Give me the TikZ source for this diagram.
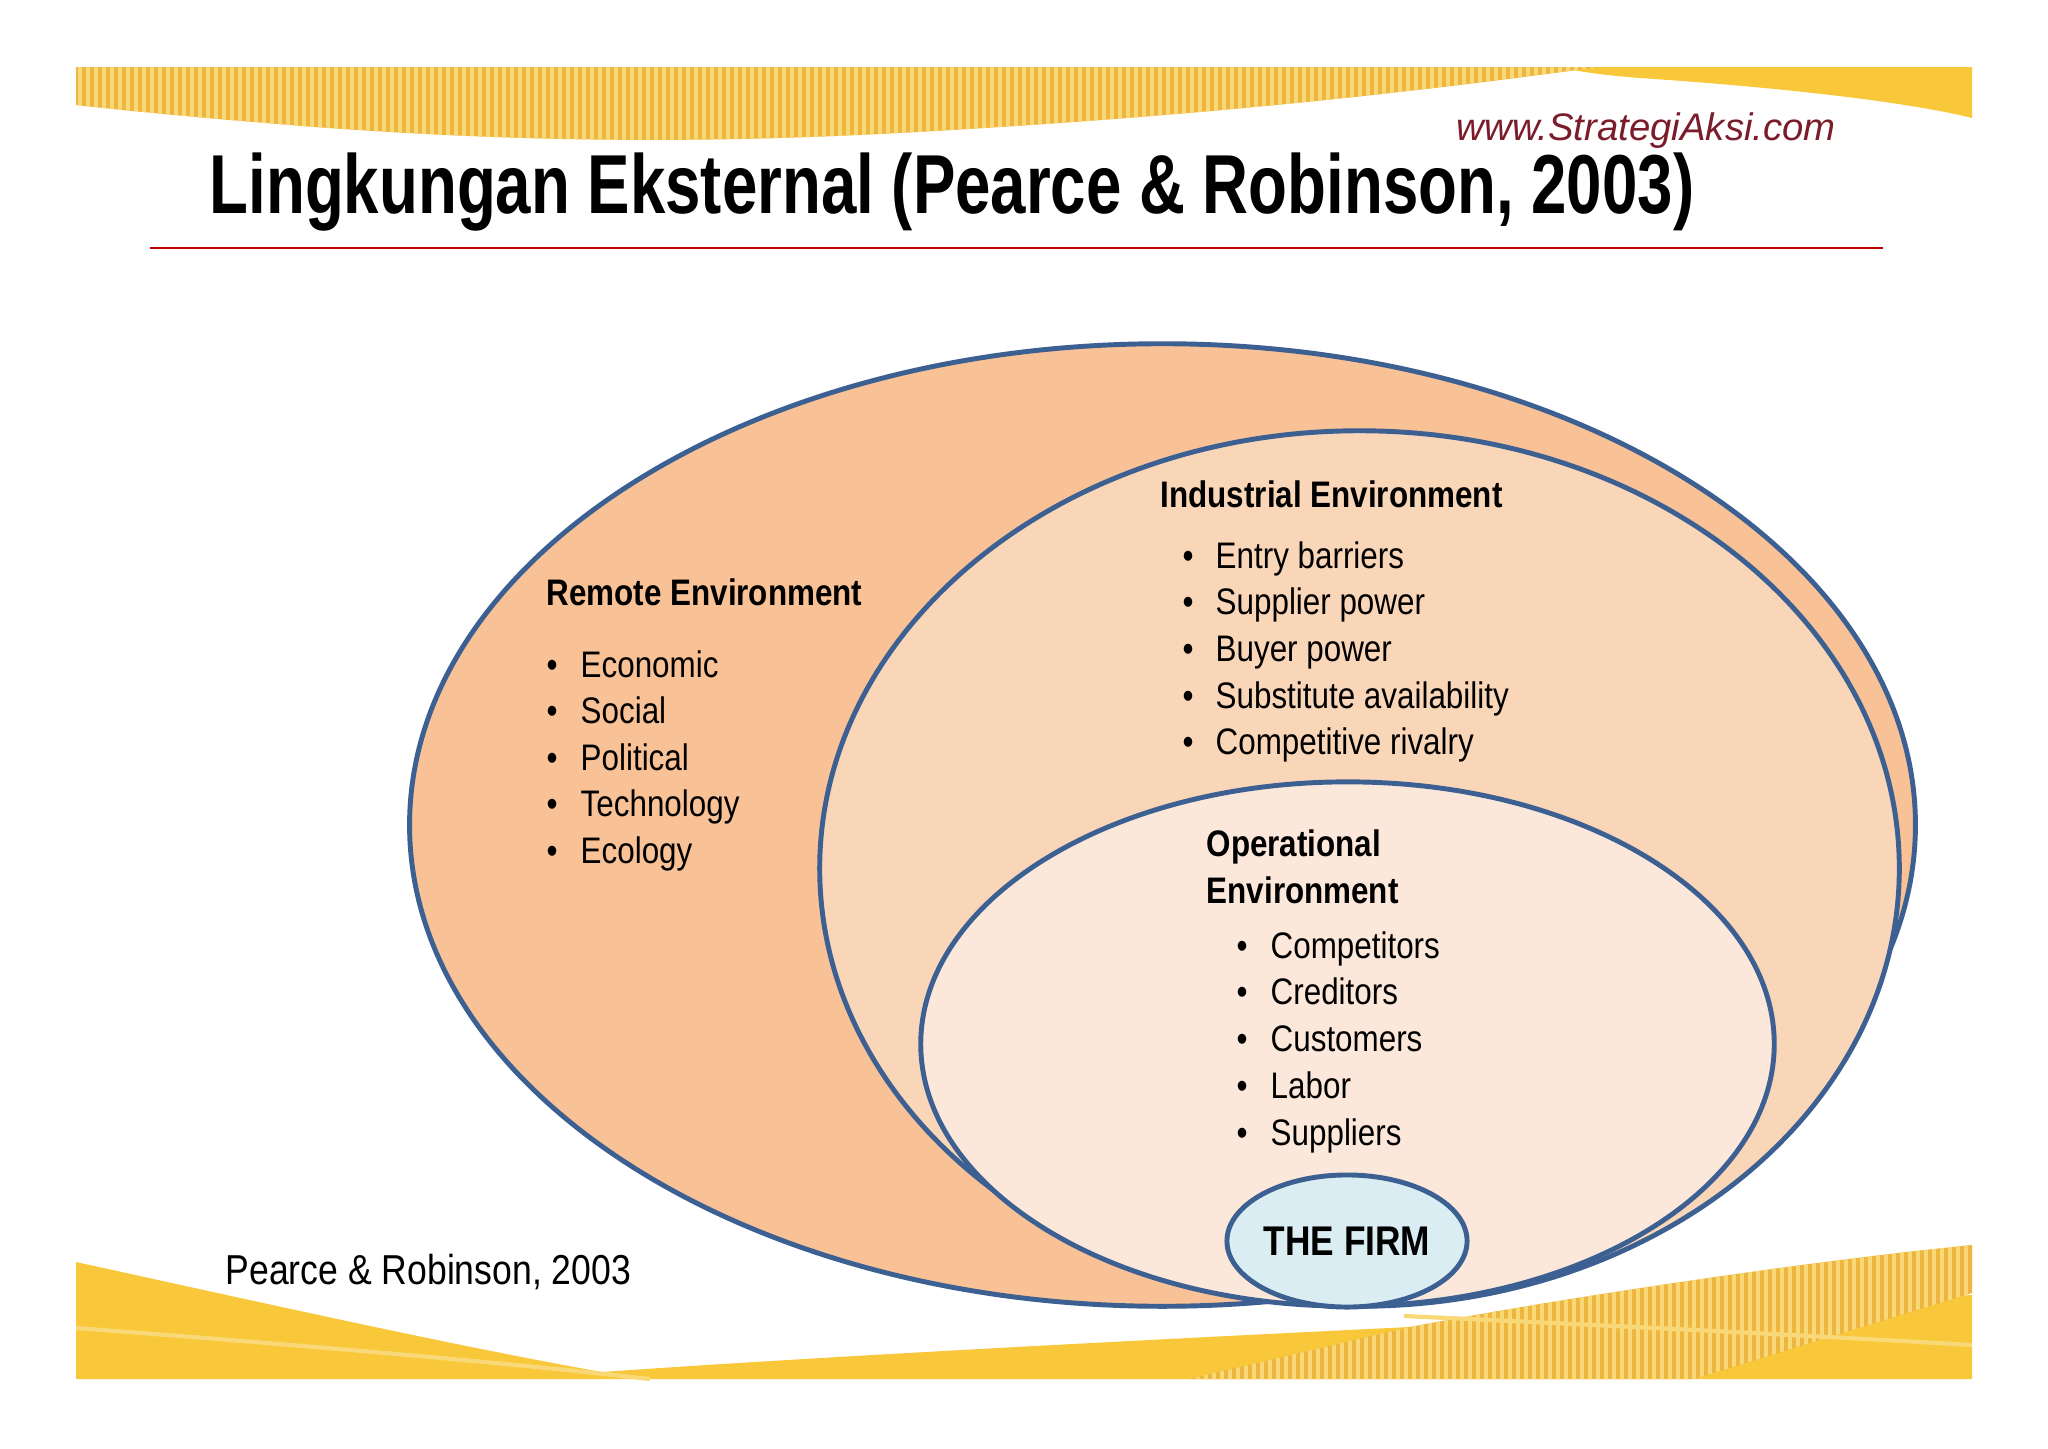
\documentclass[tikz,border=0pt]{standalone}
\usepackage{fontspec}
\setmainfont{Liberation Sans}
\newfontfamily\narrowfont[FakeStretch=0.85]{Liberation Sans}
\newfontfamily\titlefont[FakeStretch=0.76]{Liberation Sans}
\usetikzlibrary{shapes.geometric}

\definecolor{ringblue}{HTML}{3C6092}
\definecolor{remotefill}{HTML}{F9C196}
\definecolor{indusfill}{HTML}{FAD6B8}
\definecolor{operfill}{HTML}{FCE8DA}
\definecolor{firmfill}{HTML}{DAEDF3}
\definecolor{bandgold}{HTML}{EEB63E}
\definecolor{bandpale}{HTML}{F8D877}
\definecolor{bandsolid}{HTML}{F8C73A}
\definecolor{rulered}{HTML}{C00000}
\definecolor{markred}{HTML}{7B1C2A}

\tikzset{
  env/.style={draw=ringblue, line width=1.4pt},
  head/.style={font=\narrowfont\bfseries\fontsize{10.5}{13.2}\selectfont, anchor=base west, inner sep=0pt, align=left},
  item/.style={font=\narrowfont\fontsize{10.5}{13}\selectfont, anchor=base west, inner sep=0pt},
  dot/.style={font=\narrowfont\fontsize{10.5}{13}\selectfont, anchor=base, inner sep=0pt}
}

\begin{document}
\begin{tikzpicture}[x=0.01cm,y=-0.01cm]
	\useasboundingbox (0,0) rectangle (2048,1448);
	\fill[white] (0,0) rectangle (2048,1448);

	%top band
	\fill[bandsolid] (1560,67) -- (1972,67) -- (1972,118)
		.. controls (1900,100) and (1760,86) .. (1640,78)
		.. controls (1600,75) and (1575,71) .. (1560,67) -- cycle;
	\begin{scope}
		\clip (76,67) -- (1600,67)
			.. controls (1500,80) and (1300,108) .. (1000,127)
			.. controls (800,140) and (600,148) .. (315,127)
			.. controls (200,118) and (120,110) .. (76,105) -- cycle;
		\fill[bandgold] (76,60) rectangle (1600,150);
		\foreach \x in {80,88,...,1600}
			\draw[bandpale, line width=0.9pt] (\x,60) -- (\x,150);
	\end{scope}

	%bottom band
	\fill[bandsolid] (76,1262) .. controls (250,1300) and (450,1345) .. (602,1372)
		.. controls (800,1358) and (1100,1342) .. (1410,1327)
		-- (1972,1295) -- (1972,1379) -- (76,1379) -- cycle;
	\begin{scope}
		\clip (1189,1379) -- (1410,1327)
			.. controls (1550,1300) and (1800,1262) .. (1972,1245)
			-- (1972,1293) -- (1694,1379) -- cycle;
		\fill[bandgold] (1180,1240) rectangle (1980,1380);
		\foreach \x in {1190,1198,...,1972}
			\draw[bandpale, line width=0.9pt] (\x,1240) -- (\x,1380);
	\end{scope}
	\draw[bandpale, line width=1.2pt] (76,1328) .. controls (300,1345) and (500,1362) .. (650,1379);
	\draw[bandpale, line width=1.2pt] (1404,1316) .. controls (1600,1325) and (1800,1335) .. (1972,1345);

	%title
	\node[font=\titlefont\bfseries\fontsize{23.8}{28}\selectfont, anchor=base west, inner sep=0pt] (title) at (209,213) {Lingkungan Eksternal (Pearce \& Robinson, 2003)};
	\node[font=\itshape\fontsize{10.9}{13}\selectfont, text=markred, anchor=west, inner sep=0pt] (wmark) at (1456,131) {www.StrategiAksi.com};
	\draw[rulered, line width=0.6pt] (150,248) -- (1883,248);

	%nested environments
	\filldraw[env, fill=remotefill] (1162.5,825) ellipse [x radius=7.525cm, y radius=4.81cm];
	\filldraw[env, fill=indusfill] (1359.5,868.5) ellipse [x radius=5.395cm, y radius=4.375cm];
	\filldraw[env, fill=operfill] (1347.5,1044) ellipse [x radius=4.265cm, y radius=2.62cm];
	\node[ellipse, env, fill=firmfill, minimum width=2.4cm, minimum height=1.32cm, inner sep=0pt,
		font=\narrowfont\bfseries\fontsize{11.8}{14}\selectfont] (firm) at (1347,1241) {THE FIRM};

	%remote
	\node[head] (remote) at (546,605) {Remote Environment};
	\foreach \txt [count=\i] in {Economic,Social,Political,Technology,Ecology}{
		\node[item] (remote\i) at (580,{677+46.6*(\i-1)}) {\txt};
		\node[dot] at (552,{677+46.6*(\i-1)}) {\textbullet};
	}

	%industrial
	\node[head] (indus) at (1160,507) {Industrial Environment};
	\foreach \txt [count=\i] in {Entry barriers,Supplier power,Buyer power,Substitute availability,Competitive rivalry}{
		\node[item] (indus\i) at (1215,{568+46.7*(\i-1)}) {\txt};
		\node[dot] at (1188,{568+46.7*(\i-1)}) {\textbullet};
	}

	%operational (base = last line)
	\node[head, align=left] (oper) at (1206,903) {Operational\\Environment};
	\foreach \txt [count=\i] in {Competitors,Creditors,Customers,Labor,Suppliers}{
		\node[item] (oper\i) at (1270,{958+46.8*(\i-1)}) {\txt};
		\node[dot] at (1242,{958+46.8*(\i-1)}) {\textbullet};
	}

	\node[item, font=\narrowfont\fontsize{11.9}{14}\selectfont] (source) at (225,1284) {Pearce \& Robinson, 2003};
\end{tikzpicture}
\end{document}
